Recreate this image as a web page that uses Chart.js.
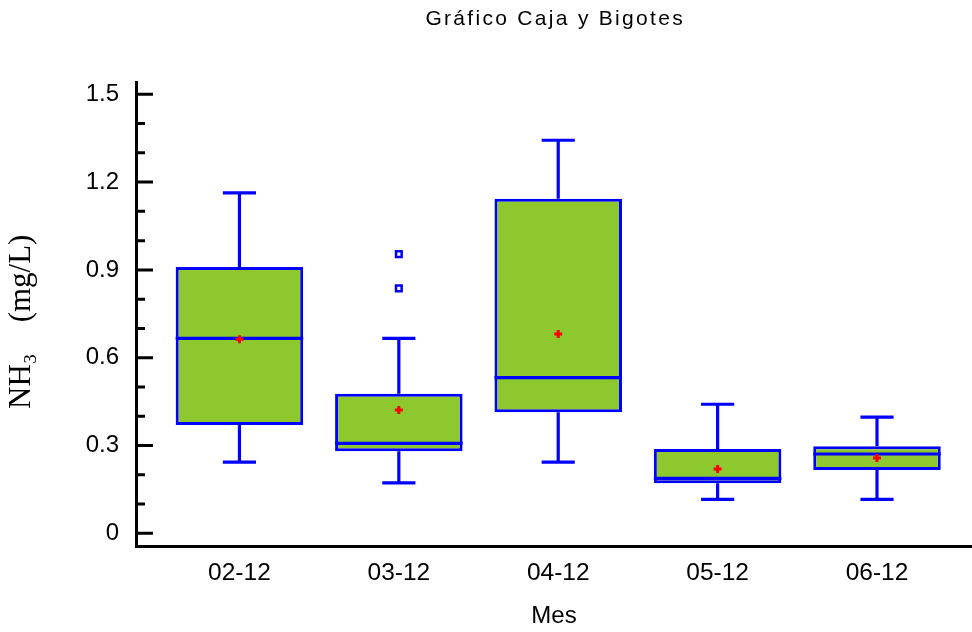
<!DOCTYPE html>
<html>
<head>
<meta charset="utf-8">
<script src="https://cdn.jsdelivr.net/npm/chart.js@4.4.1/dist/chart.umd.min.js"></script>
<style>
  html, body { margin: 0; padding: 0; background: #ffffff; }
  #wrap { width: 972px; height: 632px; }
</style>
</head>
<body>
<div id="wrap"><canvas id="chart" width="972" height="632"></canvas></div>
<script>
// Monthly NH3 concentration (mg/L): five-number summaries per month
const categories   = ['02-12', '03-12', '04-12', '05-12', '06-12'];
const lowerWhisker = [0.243, 0.172, 0.243, 0.116, 0.116];
const quartile1    = [0.370, 0.280, 0.414, 0.171, 0.216];
const median       = [0.666, 0.307, 0.532, 0.188, 0.271];
const quartile3    = [0.910, 0.477, 1.143, 0.288, 0.297];
const upperWhisker = [1.163, 0.666, 1.343, 0.441, 0.397];
const means        = [0.663, 0.421, 0.681, 0.220, 0.257];
// outside points: month index and value
const outlierMonth = [1, 1];
const outlierValue = [0.837, 0.954];
const yTicks = [0, 0.3, 0.6, 0.9, 1.2, 1.5];

const BLUE = '#0000ff';
const GREEN = '#8dc92e';
const RED = '#ff0000';

// whiskers, caps and median line on top of each box
const boxParts = {
  id: 'boxParts',
  afterDatasetDraw(chart, args) {
    if (args.index !== 0) return;
    const y = chart.scales.y;
    const ctx = chart.ctx;
    ctx.save();
    ctx.strokeStyle = BLUE;
    ctx.lineWidth = 3.2;
    ctx.lineCap = 'butt';
    args.meta.data.forEach((bar, i) => {
      const { x, width } = bar.getProps(['x', 'width'], true);
      const cap = width * 0.13;
      const pLw = y.getPixelForValue(lowerWhisker[i]);
      const pQ1 = y.getPixelForValue(quartile1[i]);
      const pMed = y.getPixelForValue(median[i]);
      const pQ3 = y.getPixelForValue(quartile3[i]);
      const pUw = y.getPixelForValue(upperWhisker[i]);
      ctx.beginPath();
      ctx.moveTo(x - width / 2, pMed); ctx.lineTo(x + width / 2, pMed);
      ctx.moveTo(x, pQ3); ctx.lineTo(x, pUw);
      ctx.moveTo(x - cap, pUw); ctx.lineTo(x + cap, pUw);
      ctx.moveTo(x, pQ1); ctx.lineTo(x, pLw);
      ctx.moveTo(x - cap, pLw); ctx.lineTo(x + cap, pLw);
      ctx.stroke();
    });
    ctx.restore();
  }
};

// inward major and minor tick marks on the value axis
const innerTicks = {
  id: 'innerTicks',
  afterDraw(chart) {
    const y = chart.scales.y;
    const left = chart.chartArea.left;
    const ctx = chart.ctx;
    ctx.save();
    ctx.strokeStyle = '#000000';
    ctx.lineWidth = 3;
    ctx.beginPath();
    yTicks.forEach((v, k) => {
      const p = y.getPixelForValue(v);
      ctx.moveTo(left, p); ctx.lineTo(left + 17, p);
      if (k < yTicks.length - 1) {
        const step = (yTicks[k + 1] - v) / 3;
        for (let m = 1; m < 3; m++) {
          const pm = y.getPixelForValue(v + step * m);
          ctx.moveTo(left, pm); ctx.lineTo(left + 9, pm);
        }
      }
    });
    ctx.stroke();
    ctx.restore();
  }
};

// spaced-out heading above the plot
const heading = {
  id: 'heading',
  afterDraw(chart) {
    const ctx = chart.ctx;
    const area = chart.chartArea;
    ctx.save();
    ctx.font = '21px "Liberation Sans", Arial, sans-serif';
    ctx.fillStyle = '#000000';
    ctx.textAlign = 'center';
    ctx.textBaseline = 'middle';
    if ('letterSpacing' in ctx) ctx.letterSpacing = '2.3px';
    ctx.fillText('Gráfico Caja y Bigotes', (area.left + area.right) / 2 + 1.2, 19);
    if ('letterSpacing' in ctx) ctx.letterSpacing = '0px';
    ctx.restore();
  }
};

new Chart(document.getElementById('chart'), {
  type: 'bar',
  data: {
    datasets: [
      {
        label: 'Caja',
        data: categories.map((c, i) => ({ x: i, y: [quartile1[i], quartile3[i]] })),
        backgroundColor: GREEN,
        borderColor: BLUE,
        borderWidth: 3,
        borderSkipped: false,
        barPercentage: 0.8,
        categoryPercentage: 1,
        order: 2
      },
      {
        type: 'scatter',
        label: 'Atípicos',
        data: outlierValue.map((v, k) => ({ x: outlierMonth[k], y: v })),
        pointStyle: 'rect',
        pointRadius: 4,
        borderColor: BLUE,
        backgroundColor: '#ffffff',
        borderWidth: 2.5,
        order: 1
      },
      {
        type: 'scatter',
        label: 'Media',
        data: means.map((m, i) => ({ x: i, y: m })),
        pointStyle: 'cross',
        pointRadius: 4,
        borderColor: RED,
        borderWidth: 3,
        order: 0
      }
    ]
  },
  options: {
    responsive: false,
    animation: false,
    devicePixelRatio: 1,
    events: [],
    layout: { autoPadding: false, padding: { top: 82, left: 0, right: 0, bottom: 0 } },
    plugins: {
      legend: { display: false },
      tooltip: { enabled: false },
      title: { display: false }
    },
    scales: {
      x: {
        type: 'linear',
        offset: false,
        min: -0.649,
        max: 4.596,
        afterBuildTicks(scale) { scale.ticks = categories.map((c, i) => ({ value: i })); },
        afterFit(scale) { scale.height = 86; },
        grid: { display: false, drawTicks: false },
        border: { display: true, color: '#000000', width: 3 },
        ticks: {
          autoSkip: false,
          maxRotation: 0,
          padding: 13,
          color: '#000000',
          font: { family: '"Liberation Sans", Arial, sans-serif', size: 24.5 },
          callback: (v) => categories[v]
        },
        title: {
          display: true,
          text: 'Mes',
          color: '#000000',
          padding: { top: 0, bottom: 1 },
          font: { family: '"Liberation Sans", Arial, sans-serif', size: 24 }
        }
      },
      y: {
        type: 'linear',
        min: -0.0434,
        max: 1.542,
        afterBuildTicks(scale) { scale.ticks = yTicks.map(v => ({ value: v })); },
        afterFit(scale) { scale.width = 136; },
        grid: { display: false, drawTicks: false },
        border: { display: true, color: '#000000', width: 3 },
        ticks: {
          padding: 17,
          color: '#000000',
          font: { family: '"Liberation Sans", Arial, sans-serif', size: 24 },
          callback: (v) => String(v)
        },
        title: {
          display: true,
          text: 'NH₃    (mg/L)  ',
          color: '#000000',
          padding: { top: 3, bottom: 0 },
          font: { family: '"Liberation Serif", "Times New Roman", serif', size: 31 }
        }
      }
    }
  },
  plugins: [boxParts, innerTicks, heading]
});
</script>
</body>
</html>
